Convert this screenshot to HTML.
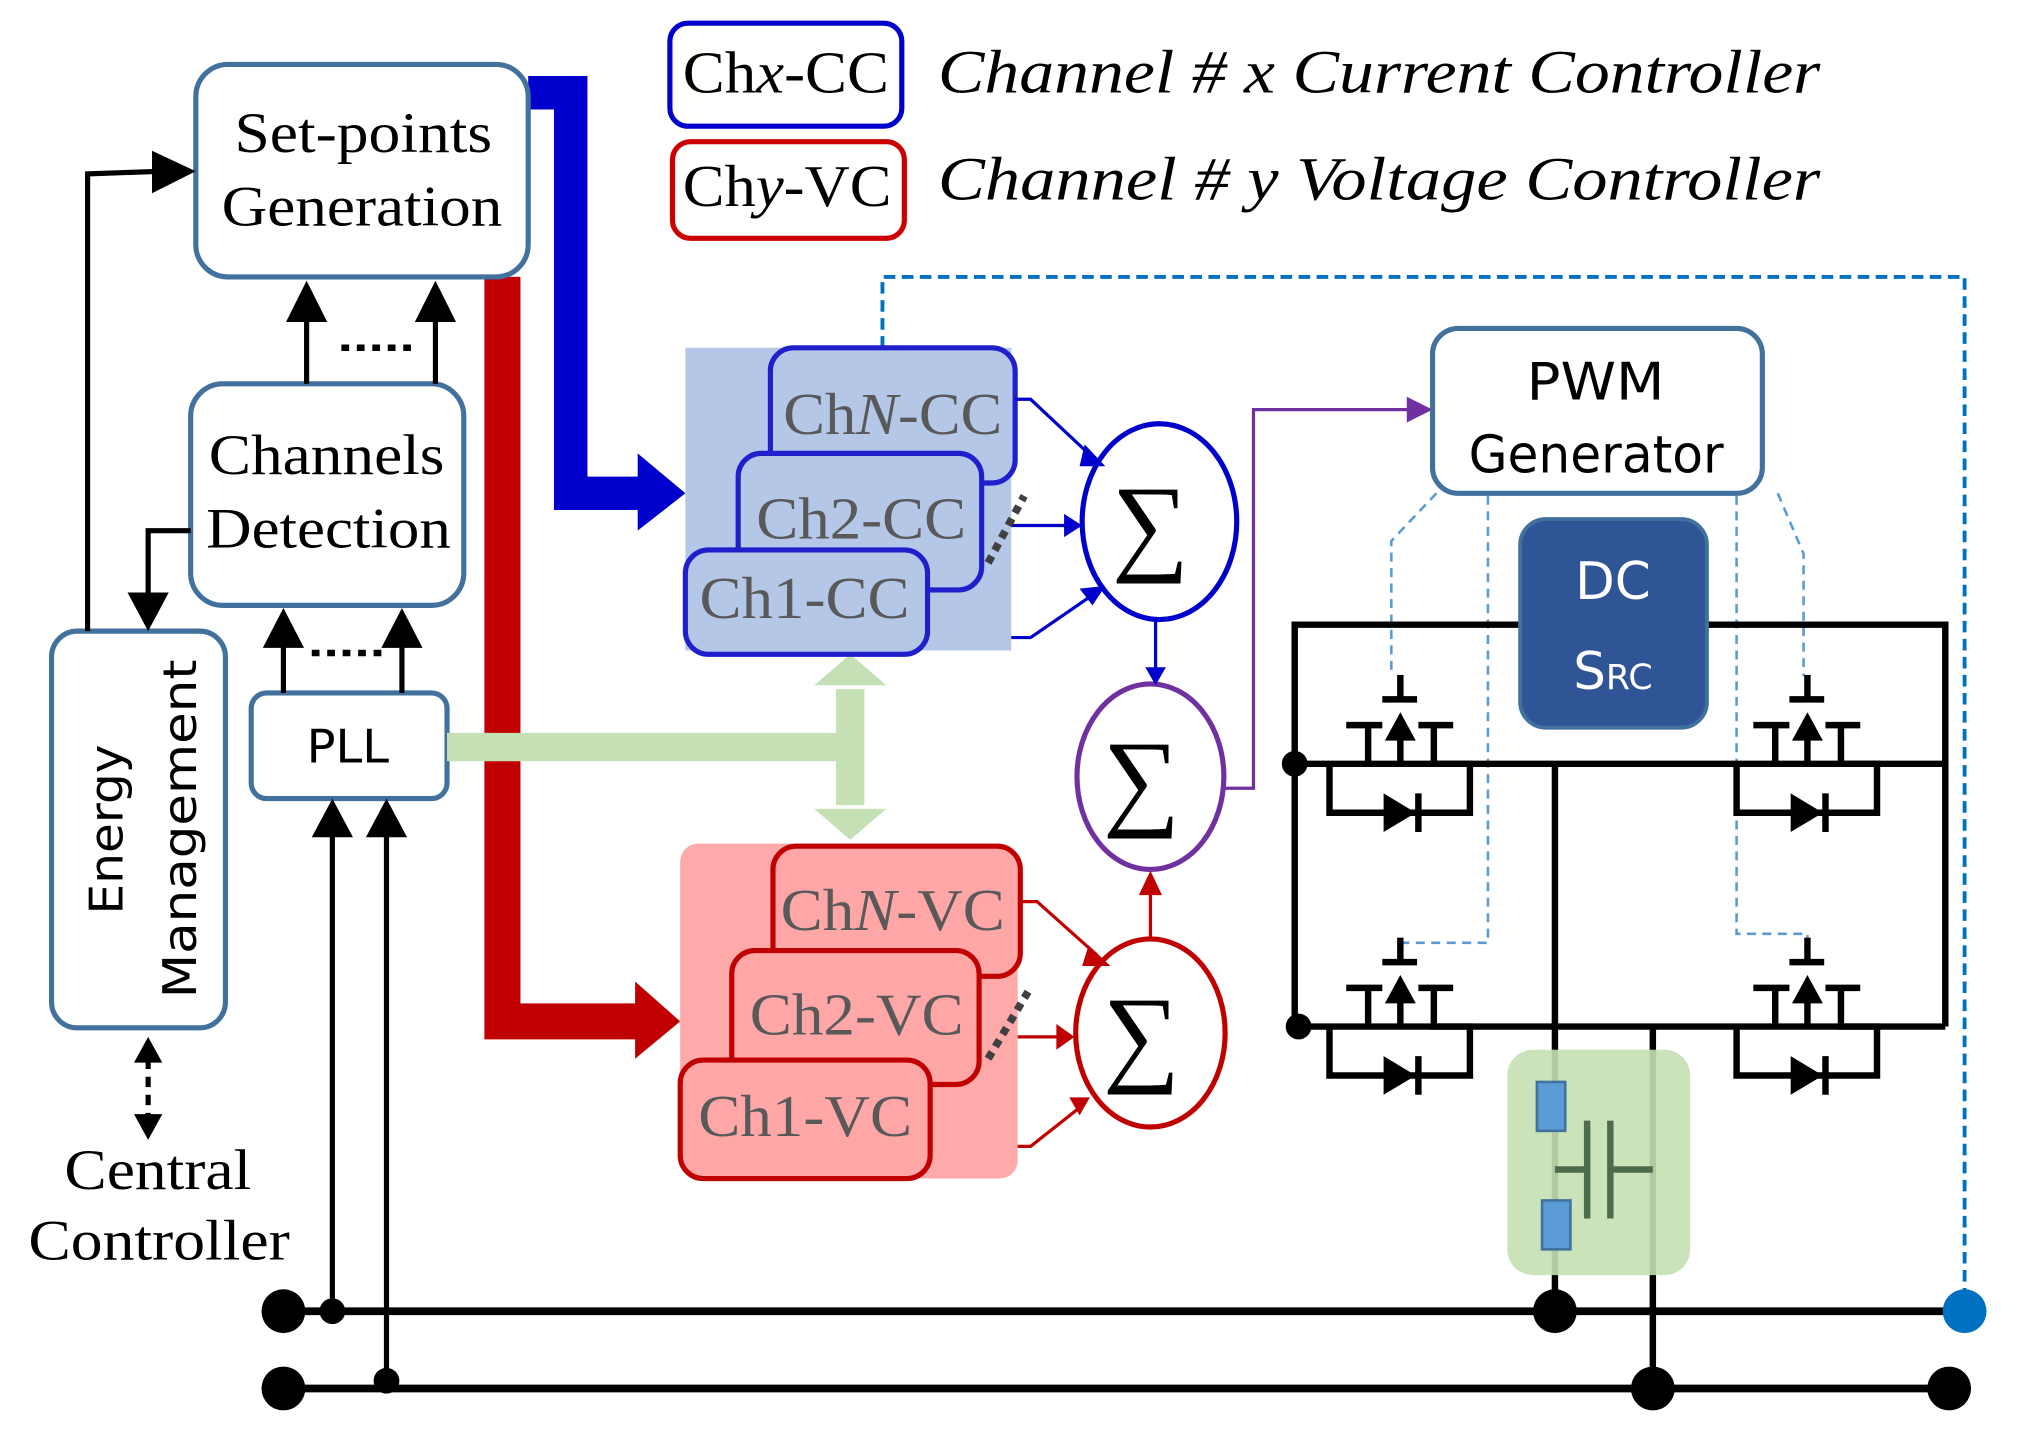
<!DOCTYPE html>
<html><head><meta charset="utf-8"><style>html,body{margin:0;padding:0;background:#fff}svg{display:block}</style></head><body>
<svg width="2020" height="1440" viewBox="0 0 1568 1118" preserveAspectRatio="none" xmlns="http://www.w3.org/2000/svg">
<defs>
<g id="sw" stroke="#000" stroke-width="5" fill="none">
<line x1="0" y1="-69" x2="0" y2="-50"/>
<line x1="-14" y1="-50" x2="13" y2="-50"/>
<line x1="0" y1="-20" x2="0" y2="0"/>
<polygon points="0,-40 -12,-18 12,-18" fill="#000" stroke="none"/>
<line x1="-42" y1="-30" x2="-14" y2="-30"/>
<line x1="-25" y1="-30" x2="-25" y2="0"/>
<line x1="14" y1="-30" x2="41" y2="-30"/>
<polyline points="26,-30 26,0 54,0 54,38 -55,38 -55,0"/>
<polygon points="-13,23 -13,53 12,38" fill="#000" stroke="none"/>
<line x1="14" y1="23" x2="14" y2="53"/>
</g>
</defs>
<!-- legend -->
<rect x="520" y="18" width="180" height="80" rx="14" fill="#fff" stroke="#0000cc" stroke-width="4"/>
<text x="530" y="72" font-family="Liberation Serif, serif" font-size="46" textLength="160" lengthAdjust="spacingAndGlyphs">Ch<tspan font-style="italic">x</tspan>-CC</text>
<rect x="522" y="110" width="180" height="75" rx="14" fill="#fff" stroke="#cc0000" stroke-width="4"/>
<text x="530" y="160" font-family="Liberation Serif, serif" font-size="46" textLength="162" lengthAdjust="spacingAndGlyphs">Ch<tspan font-style="italic">y</tspan>-VC</text>
<text x="728" y="72" font-family="Liberation Serif, serif" font-style="italic" font-size="48" textLength="685" lengthAdjust="spacingAndGlyphs">Channel # x Current Controller</text>
<text x="728" y="155" font-family="Liberation Serif, serif" font-style="italic" font-size="48" textLength="685" lengthAdjust="spacingAndGlyphs">Channel # y Voltage Controller</text>

<!-- blue dashed feedback -->
<polyline points="685,270 685,215 1525,215 1525,1005" fill="none" stroke="#0070c0" stroke-width="3" stroke-dasharray="9 5"/>

<!-- thick arrows -->
<polyline points="410,72 443,72 443,383 500,383" fill="none" stroke="#0000cc" stroke-width="26"/>
<polygon points="495,352 532,383 495,412" fill="#0000cc"/>
<polyline points="390,215 390,793 498,793" fill="none" stroke="#c00000" stroke-width="28"/>
<polygon points="493,762 528,793 493,822" fill="#c00000"/>

<!-- boxes left -->
<rect x="152" y="50" width="258" height="165" rx="25" fill="#fff" stroke="#41719c" stroke-width="4"/>
<text x="182" y="118" font-family="Liberation Serif, serif" font-size="44" textLength="200" lengthAdjust="spacingAndGlyphs">Set-points</text>
<text x="172" y="175" font-family="Liberation Serif, serif" font-size="44" textLength="218" lengthAdjust="spacingAndGlyphs">Generation</text>
<rect x="148" y="298" width="212" height="172" rx="25" fill="#fff" stroke="#41719c" stroke-width="4"/>
<text x="162" y="368" font-family="Liberation Serif, serif" font-size="44" textLength="183" lengthAdjust="spacingAndGlyphs">Channels</text>
<text x="160" y="425" font-family="Liberation Serif, serif" font-size="44" textLength="190" lengthAdjust="spacingAndGlyphs">Detection</text>
<rect x="40" y="490" width="135" height="308" rx="20" fill="#fff" stroke="#41719c" stroke-width="4"/>
<text transform="translate(95,710) rotate(-90)" font-family="DejaVu Sans, sans-serif" font-size="36" textLength="132" lengthAdjust="spacingAndGlyphs">Energy</text>
<text transform="translate(152,775) rotate(-90)" font-family="DejaVu Sans, sans-serif" font-size="36" textLength="263" lengthAdjust="spacingAndGlyphs">Management</text>
<rect x="195" y="538" width="152" height="82" rx="12" fill="#fff" stroke="#41719c" stroke-width="4"/>
<text x="238" y="592" font-family="DejaVu Sans, sans-serif" font-size="36" textLength="64" lengthAdjust="spacingAndGlyphs">PLL</text>

<g stroke="#000" stroke-width="4" fill="none">
<line x1="238" y1="298" x2="238" y2="245"/><line x1="338" y1="298" x2="338" y2="245"/>
<line x1="265" y1="270" x2="325" y2="270" stroke-dasharray="6 6" stroke-width="5"/>
<line x1="220" y1="538" x2="220" y2="498"/><line x1="312" y1="538" x2="312" y2="498"/>
<line x1="242" y1="507" x2="300" y2="507" stroke-dasharray="6 6" stroke-width="5"/>
<polyline points="68,490 68,135 125,133"/>
<polyline points="148,412 115,412 115,465"/>
<line x1="115" y1="822" x2="115" y2="868" stroke-dasharray="8 6"/>
<line x1="258" y1="1018" x2="258" y2="645"/><line x1="300" y1="1078" x2="300" y2="645"/>
</g>
<g fill="#000">
<polygon points="222,250 238,218 254,250"/><polygon points="322,250 338,218 354,250"/>
<polygon points="204,503 220,472 236,503"/><polygon points="296,503 312,472 328,503"/>
<polygon points="118,117 152,133 118,150"/>
<polygon points="99,460 115,490 131,460"/>
<polygon points="104,825 115,805 126,825"/><polygon points="104,865 115,885 126,865"/>
<polygon points="242,650 258,620 274,650"/><polygon points="284,650 300,620 316,650"/>
</g>
<text x="50" y="923" font-family="Liberation Serif, serif" font-size="44" textLength="145" lengthAdjust="spacingAndGlyphs">Central</text>
<text x="22" y="978" font-family="Liberation Serif, serif" font-size="44" textLength="203" lengthAdjust="spacingAndGlyphs">Controller</text>

<!-- green PLL connection -->
<line x1="347" y1="580" x2="660" y2="580" stroke="#c5e0b4" stroke-width="22"/>
<line x1="660" y1="535" x2="660" y2="625" stroke="#c5e0b4" stroke-width="22"/>
<polygon points="632,532 660,508 688,532" fill="#c5e0b4"/>
<polygon points="632,628 660,652 688,628" fill="#c5e0b4"/>

<!-- CC group -->
<rect x="532" y="270" width="253" height="235" fill="#b4c7e7"/>
<g stroke="#1f1fcc" stroke-width="4" fill="#b4c7e7">
<rect x="598" y="270" width="190" height="105" rx="18"/>
<rect x="573" y="352" width="189" height="106" rx="18"/>
<rect x="532" y="427" width="188" height="81" rx="18"/>
</g>
<g fill="#595959" font-family="Liberation Serif, serif" font-size="46">
<text x="608" y="337" textLength="170" lengthAdjust="spacingAndGlyphs">Ch<tspan font-style="italic">N</tspan>-CC</text>
<text x="587" y="418" textLength="163" lengthAdjust="spacingAndGlyphs">Ch2-CC</text>
<text x="543" y="480" textLength="163" lengthAdjust="spacingAndGlyphs">Ch1-CC</text>
</g>
<!-- VC group -->
<rect x="528" y="655" width="262" height="260" rx="14" fill="#ffaaaa"/>
<g stroke="#c00000" stroke-width="4" fill="#ffa6a6">
<rect x="600" y="657" width="192" height="101" rx="18"/>
<rect x="568" y="738" width="192" height="104" rx="18"/>
<rect x="528" y="823" width="194" height="92" rx="18"/>
</g>
<g fill="#595959" font-family="Liberation Serif, serif" font-size="46">
<text x="606" y="722" textLength="174" lengthAdjust="spacingAndGlyphs">Ch<tspan font-style="italic">N</tspan>-VC</text>
<text x="582" y="803" textLength="166" lengthAdjust="spacingAndGlyphs">Ch2-VC</text>
<text x="542" y="882" textLength="166" lengthAdjust="spacingAndGlyphs">Ch1-VC</text>
</g>

<!-- sigma -->
<ellipse cx="900" cy="405" rx="60" ry="76" fill="#fff" stroke="#0000cc" stroke-width="4"/>
<ellipse cx="893" cy="603" rx="57" ry="72" fill="#fff" stroke="#7030a0" stroke-width="4"/>
<ellipse cx="893" cy="802" rx="58" ry="73" fill="#fff" stroke="#c00000" stroke-width="4"/>
<g font-family="Liberation Serif, serif" font-size="84" text-anchor="middle">
<text x="893" y="435">∑</text><text x="886" y="633">∑</text><text x="886" y="832">∑</text>
</g>
<g stroke="#0000cc" stroke-width="2.5" fill="none">
<polyline points="788,310 800,310 848,355"/>
<line x1="785" y1="408" x2="828" y2="408"/>
<polyline points="785,495 800,495 848,462"/>
<line x1="897" y1="481" x2="897" y2="520"/>
</g>
<g fill="#0000cc">
<polygon points="842,345 858,362 838,362"/>
<polygon points="826,399 840,408 826,417"/>
<polygon points="838,457 858,455 848,470"/>
<polygon points="889,518 897,532 905,518"/>
</g>
<line x1="767" y1="437" x2="795" y2="385" stroke="#404040" stroke-width="6" stroke-dasharray="6 5"/>
<line x1="767" y1="822" x2="798" y2="770" stroke="#404040" stroke-width="6" stroke-dasharray="6 5"/>
<g stroke="#c00000" stroke-width="2.5" fill="none">
<polyline points="792,700 805,700 852,742"/>
<line x1="790" y1="805" x2="822" y2="805"/>
<polyline points="790,890 800,890 838,860"/>
<line x1="893" y1="729" x2="893" y2="690"/>
</g>
<g fill="#c00000">
<polygon points="845,734 862,750 840,750"/>
<polygon points="820,795 834,805 820,815"/>
<polygon points="830,852 846,852 838,866"/>
<polygon points="884,695 893,676 902,695"/>
</g>
<polyline points="950,612 973,612 973,318 1095,318" fill="none" stroke="#7030a0" stroke-width="2.5"/>
<polygon points="1092,308 1112,318 1092,328" fill="#7030a0"/>

<!-- PWM & DC -->
<rect x="1112" y="255" width="256" height="128" rx="20" fill="#fff" stroke="#41719c" stroke-width="4"/>
<text x="1185" y="310" font-family="DejaVu Sans, sans-serif" font-size="40" textLength="107" lengthAdjust="spacingAndGlyphs">PWM</text>
<text x="1140" y="367" font-family="DejaVu Sans, sans-serif" font-size="40" textLength="198" lengthAdjust="spacingAndGlyphs">Generator</text>

<!-- light blue dashed gates -->
<g stroke="#5b9bd5" stroke-width="2" fill="none" stroke-dasharray="7 5">
<polyline points="1115,383 1080,420 1080,525"/>
<polyline points="1155,385 1155,732 1087,732 1087,728"/>
<polyline points="1348,385 1348,725 1403,725 1403,728"/>
<polyline points="1380,383 1400,430 1400,525"/>
</g>

<!-- inverter -->
<g stroke="#000" stroke-width="5" fill="none">
<polyline points="1005,797 1005,485 1510,485 1510,797"/>
<line x1="1005" y1="593" x2="1510" y2="593"/>
<line x1="1005" y1="797" x2="1510" y2="797"/>
<line x1="1207" y1="593" x2="1207" y2="1018"/>
<line x1="1283" y1="797" x2="1283" y2="1078"/>
</g>
<use href="#sw" transform="translate(1087,593)"/>
<use href="#sw" transform="translate(1403,593)"/>
<use href="#sw" transform="translate(1087,797)"/>
<use href="#sw" transform="translate(1403,797)"/>
<circle cx="1005" cy="593" r="10"/><circle cx="1008" cy="797" r="10"/>

<rect x="1180" y="403" width="145" height="162" rx="20" fill="#2f5597" stroke="#41719c" stroke-width="3"/>
<text x="1252" y="465" font-family="DejaVu Sans, sans-serif" font-size="40" fill="#fff" text-anchor="middle">DC</text>
<text x="1252" y="535" font-family="DejaVu Sans, sans-serif" font-size="40" fill="#fff" text-anchor="middle">S<tspan font-size="27">RC</tspan></text>

<!-- filter -->
<rect x="1170" y="815" width="142" height="175" rx="20" fill="#c5e0b4" opacity="0.9"/>
<g stroke="#4e6b4e" stroke-width="5" fill="none">
<line x1="1207" y1="908" x2="1232" y2="908"/>
<line x1="1232" y1="870" x2="1232" y2="946"/>
<line x1="1250" y1="870" x2="1250" y2="946"/>
<line x1="1250" y1="908" x2="1283" y2="908"/>
</g>
<rect x="1193" y="840" width="22" height="38" fill="#5b9bd5" stroke="#41719c" stroke-width="2"/>
<rect x="1197" y="932" width="22" height="38" fill="#5b9bd5" stroke="#41719c" stroke-width="2"/>

<!-- buses -->
<g stroke="#000" stroke-width="6">
<line x1="220" y1="1018" x2="1525" y2="1018"/>
<line x1="220" y1="1078" x2="1513" y2="1078"/>
</g>
<circle cx="220" cy="1018" r="17"/><circle cx="220" cy="1078" r="17"/>
<circle cx="258" cy="1018" r="10"/><circle cx="300" cy="1072" r="10"/>
<circle cx="1207" cy="1018" r="17"/><circle cx="1283" cy="1078" r="17"/>
<circle cx="1513" cy="1078" r="17"/>
<circle cx="1525" cy="1018" r="17" fill="#0070c0"/>
</svg>
</body></html>
